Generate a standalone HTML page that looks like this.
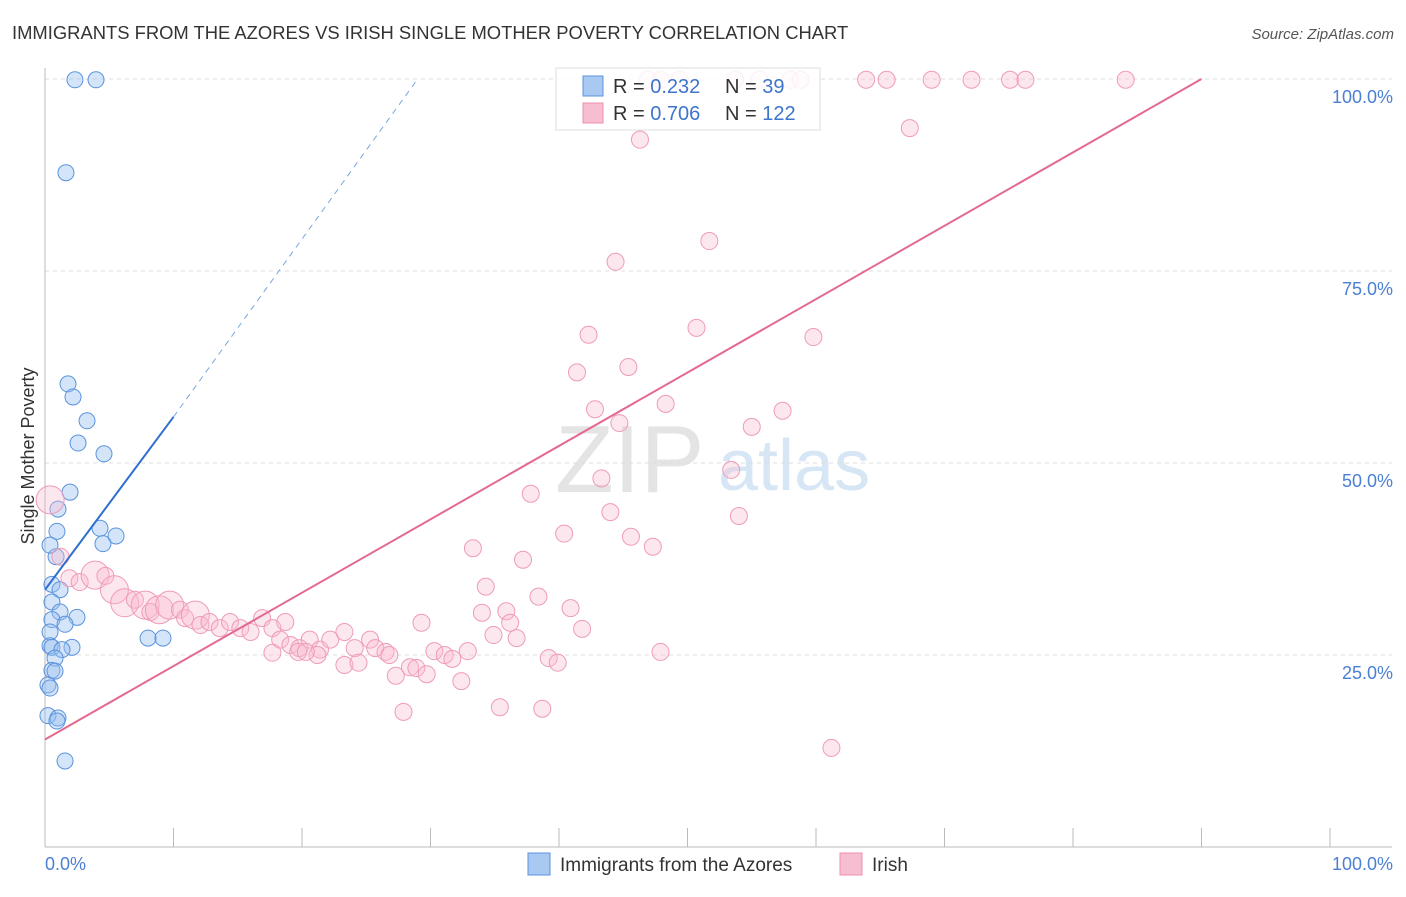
<!DOCTYPE html>
<html><head><meta charset="utf-8"><style>
body{margin:0;background:#fff;font-family:"Liberation Sans",sans-serif}
svg text{font-family:"Liberation Sans",sans-serif}
</style></head><body>
<svg id="c" width="1406" height="892" viewBox="0 0 1406 892"></svg>
<script>
const blueX=[2.33,3.97,1.63,1.79,2.18,3.27,2.57,4.59,1.95,1.01,4.28,5.53,4.51,0.93,0.86,0.54,1.17,0.54,1.17,2.49,0.54,1.56,0.39,0.39,2.1,0.54,1.32,0.78,0.54,0.78,0.23,0.39,0.23,1.01,0.93,1.56,8.02,9.18,0.39];
const blueY=[99.9,99.9,87.8,60.3,58.6,55.5,52.6,51.2,46.2,44.0,41.5,40.5,39.5,41.1,37.8,34.2,33.5,31.9,30.6,29.9,29.6,29.0,28.0,26.2,26.0,26.0,25.7,24.6,23.0,22.9,21.1,20.7,17.1,16.8,16.4,11.2,27.2,27.2,39.3];
const pinkX=[46.9,47.9,49.4,53.7,55.6,58.0,58.8,63.9,65.5,69.0,72.1,75.1,76.3,84.1,67.3,46.3,51.7,44.4,42.3,50.7,59.8,41.4,45.4,48.3,42.8,57.4,44.7,55.0,53.4,43.3,37.8,44.0,54.0,40.4,45.6,47.3,33.3,37.2,34.3,38.4,34.0,35.9,40.9,36.2,29.3,41.8,34.9,36.7,47.9,39.2,39.9,30.3,31.1,32.9,31.7,28.4,28.9,27.3,29.7,32.4,27.9,35.4,38.7,61.2,
0.4,1.2,1.9,2.7,3.9,4.7,5.4,6.2,7.0,7.8,8.2,8.9,9.7,10.5,10.9,11.7,12.1,12.8,13.6,14.4,15.2,16.0,16.9,17.7,18.7,18.3,19.1,19.8,20.6,21.4,22.2,23.3,24.1,25.3,25.7,26.5,26.8,17.7,19.7,23.3,24.4,21.2,20.3];
const pinkY=[99.9,99.9,99.9,99.9,99.9,99.9,99.9,99.9,99.9,99.9,99.9,99.9,99.9,99.9,93.6,92.1,78.9,76.2,66.7,67.6,66.4,61.8,62.5,57.7,57.0,56.8,55.2,54.7,49.1,48.0,46.0,43.6,43.1,40.8,40.4,39.1,38.9,37.4,33.9,32.6,30.5,30.7,31.1,29.2,29.2,28.4,27.6,27.2,25.4,24.6,24.0,25.5,25.0,25.5,24.5,23.4,23.3,22.3,22.5,21.6,17.6,18.2,18.0,12.9,
45.2,37.8,35.0,34.5,35.4,35.3,33.5,31.8,32.2,31.5,30.6,30.9,31.5,30.9,29.8,30.2,28.9,29.3,28.5,29.3,28.5,28.0,29.8,28.5,29.3,27.0,26.3,25.9,27.0,25.7,27.0,28.0,25.9,27.0,25.9,25.4,25.0,25.3,25.4,23.7,24.0,25.0,25.4];
const pinkBig=[64,68,70,71,73,75,76,79];
const blueFit=[[0,33.5],[10,56]], blueFitDash=[[10,56],[29,100]];
const pinkFit=[[0,14],[90,100]];
const yTicks=[25,50,75,100];
const X=v=>45+v*12.85, Y=v=>847-v*7.68;
const s=document.getElementById('c'),NS='http://www.w3.org/2000/svg';
function el(t,a,p){const e=document.createElementNS(NS,t);for(const k in a)e.setAttribute(k,a[k]);(p||s).appendChild(e);return e;}
let e;
e=el('text',{x:12,y:39,'font-size':18.4,fill:'#333'});e.textContent='IMMIGRANTS FROM THE AZORES VS IRISH SINGLE MOTHER POVERTY CORRELATION CHART';

e=el('text',{x:1394,y:39,'font-size':15,fill:'#555','font-style':'italic','text-anchor':'end'});e.textContent='Source: ZipAtlas.com';

e=el('text',{x:555,y:492,'font-size':96,fill:'#e4e4e4','font-family':'Liberation Serif'});e.textContent='ZIP';

e=el('text',{x:718,y:490,'font-size':72,fill:'#d6e6f5'});e.textContent='atlas';

yTicks.forEach(t=>{e=el('line',{x1:45,x2:1392,y1:Y(t),y2:Y(t),stroke:'#ddd','stroke-dasharray':'4,4'});

e=el('text',{x:1393,y:Y(t)+24,'font-size':18,fill:'#4a7fd4','text-anchor':'end'});e.textContent=t.toFixed(1)+'%';
});
e=el('line',{x1:45,x2:45,y1:68,y2:847,stroke:'#bbb'});
e=el('line',{x1:45,x2:1392,y1:847,y2:847,stroke:'#bbb'});
for(let i=1;i<=10;i++){e=el('line',{x1:X(i*10),x2:X(i*10),y1:828,y2:847,stroke:'#bbb'});}
e=el('text',{x:45,y:870,'font-size':18,fill:'#4a7fd4'});e.textContent='0.0%';
e=el('text',{x:1393,y:870,'font-size':18,fill:'#4a7fd4','text-anchor':'end'});e.textContent='100.0%';
e=el('text',{x:34,y:456,'font-size':18,fill:'#333','text-anchor':'middle',transform:'rotate(-90 34 456)'});e.textContent='Single Mother Poverty';

blueX.forEach((v,i)=>{e=el('circle',{cx:X(v),cy:Y(blueY[i]),r:8,fill:'rgba(150,190,240,0.4)',stroke:'#5b93dc','stroke-width':1});
});
pinkX.forEach((v,i)=>{const b=pinkBig.includes(i);e=el('circle',{cx:X(v),cy:Y(pinkY[i]),r:b?14:8.5,fill:'rgba(248,185,205,0.35)',stroke:'#ef9bb8','stroke-width':1});
});
e=el('line',{x1:X(blueFit[0][0]),y1:Y(blueFit[0][1]),x2:X(blueFit[1][0]),y2:Y(blueFit[1][1]),stroke:'#2f6fd0','stroke-width':2});

e=el('line',{x1:X(blueFitDash[0][0]),y1:Y(blueFitDash[0][1]),x2:X(blueFitDash[1][0]),y2:Y(blueFitDash[1][1]),stroke:'#7aa6e0','stroke-width':1,'stroke-dasharray':'6,5'});

e=el('line',{x1:X(pinkFit[0][0]),y1:Y(pinkFit[0][1]),x2:X(pinkFit[1][0]),y2:Y(pinkFit[1][1]),stroke:'#e4698f','stroke-width':2});

const lg=el('g',{});
el('rect',{x:556,y:68,width:264,height:62,fill:'rgba(255,255,255,0.85)',stroke:'#ddd'},lg);
[['#a9c8f2','#5b93dc','0.232','39',86],['#f7bdd0','#ec8fae','0.706','122',113]].forEach(r=>{
el('rect',{x:583,y:r[4]-10,width:20,height:20,fill:r[0],stroke:r[1]},lg);
let t=el('text',{x:613,y:r[4]+7,'font-size':20,fill:'#333'},lg);t.innerHTML='R = <tspan fill="#3d74cc">'+r[2]+'</tspan>';
t=el('text',{x:725,y:r[4]+7,'font-size':20,fill:'#333'},lg);t.innerHTML='N = <tspan fill="#3d74cc">'+r[3]+'</tspan>';});
[[528,'#a9c8f2','#5b93dc','Immigrants from the Azores','legend-azores'],[840,'#f7bdd0','#ec8fae','Irish','legend-irish']].forEach(r=>{
const g=el('g',{});
el('rect',{x:r[0],y:853,width:22,height:22,fill:r[1],stroke:r[2]},g);
const t=el('text',{x:r[0]+32,y:871,'font-size':19,fill:'#333'},g);t.textContent=r[3];});
</script>
</body></html>
